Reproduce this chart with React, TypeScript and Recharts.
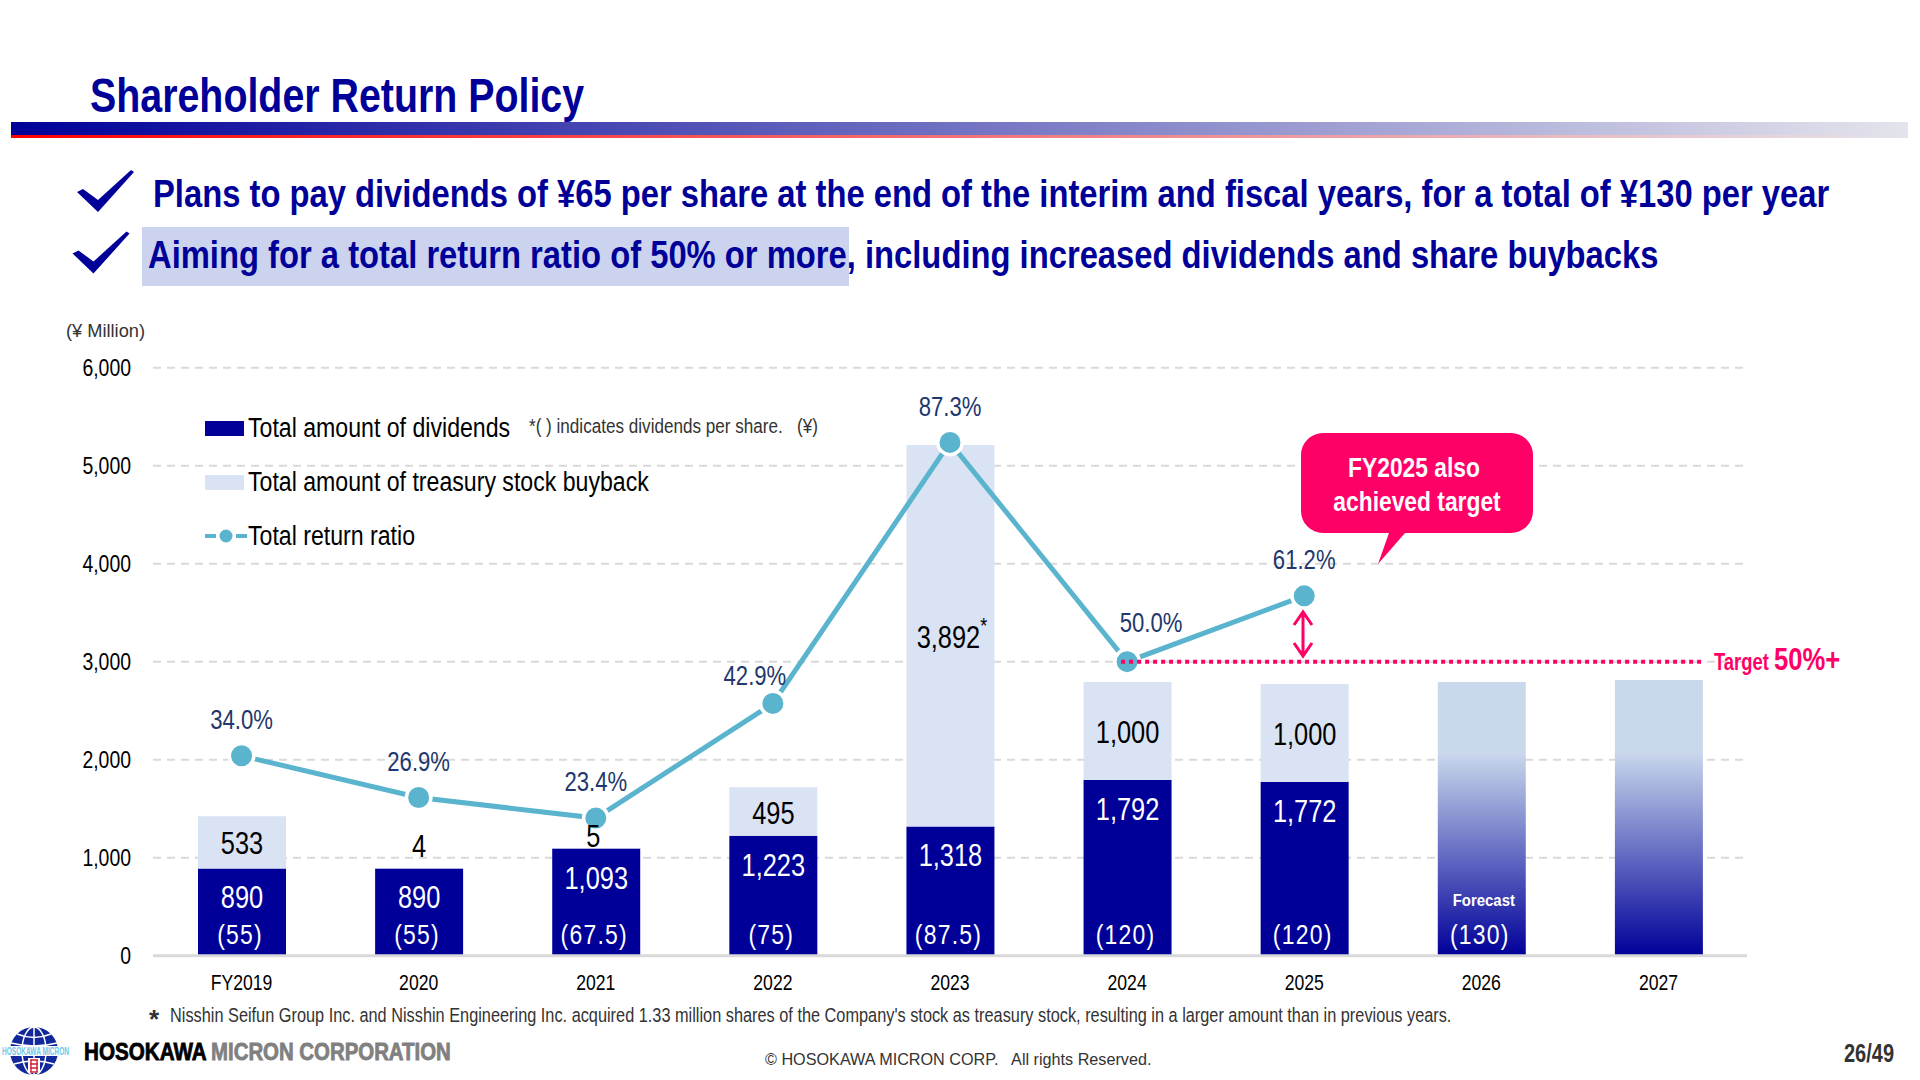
import {
  Bar,
  CartesianGrid,
  ComposedChart,
  LabelList,
  Legend,
  Line,
  ReferenceLine,
  XAxis,
  YAxis,
} from 'recharts'

const FONT = '"Liberation Sans", Arial, sans-serif'
const NAVY = '#000099'
const PALE = '#DAE3F3'
const TEAL = '#5AB4CE'
const PINK = '#FF0066'

const years = ['FY2019', '2020', '2021', '2022', '2023', '2024', '2025', '2026', '2027']
const dividends = [890, 890, 1093, 1223, 1318, 1792, 1772, null, null]
const buybacks = [533, 4, 5, 495, 3892, 1000, 1000, null, null]
const forecast = [null, null, null, null, null, null, null, 2793, 2813]
const returnRatio = [34.0, 26.9, 23.4, 42.9, 87.3, 50.0, 61.2, null, null]
const perShare = ['(55)', '(55)', '(67.5)', '(75)', '(87.5)', '(120)', '(120)', '(130)', null]
const notes = [null, null, null, null, null, null, null, 'Forecast', null]
const yTicks = [0, 1000, 2000, 3000, 4000, 5000, 6000]

const tableData = years.map((year, i) => ({
  year,
  dividends: dividends[i],
  buybacks: buybacks[i],
  forecast: forecast[i],
  returnRatio: returnRatio[i],
  perShare: perShare[i],
  note: notes[i],
}))

// hand placed offsets for the % labels, the default is straight above the dot
const pctNudge: Record<number, [number, number]> = {
  3: [-18, -28],
  5: [24, -39],
}

const fmt = (v: number) => v.toLocaleString('en-US')

// No narrow font is installed, so Liberation Sans gets squeezed horizontally
function Narrow({ x, y, sx = 0.82, size, weight, fill = '#000', anchor = 'start', central, children, ...rest }: any) {
  return (
    <text
      transform={`translate(${x} ${y}) scale(${sx} 1)`}
      fontSize={size}
      fontWeight={weight}
      fontFamily={FONT}
      fill={fill}
      textAnchor={anchor}
      dominantBaseline={central ? 'central' : undefined}
      {...rest}
    >
      {children}
    </text>
  )
}

function XTick({ x, payload }: any) {
  return <Narrow x={x} y={955.7 + 27} size={22} sx={0.8} anchor="middle" central>{payload.value}</Narrow>
}

function YTick({ x, y, payload }: any) {
  return <Narrow x={x} y={y} size={24} sx={0.81} anchor="end" central>{fmt(payload.value)}</Narrow>
}

function DividendLabel({ x, y, width, value }: any) {
  if (value == null) return null
  return <Narrow x={x + width / 2} y={y + 29} size={31} fill="#fff" anchor="middle" central>{fmt(value)}</Narrow>
}

function BuybackLabel({ x, y, width, height, value, index }: any) {
  if (value == null) return null
  // the tiny amounts don't fit inside the segment, they sit on top of the bar
  const small = value < 100
  const cy = small ? y - (index === 1 ? 22 : 12) : y + height / 2 + 1
  const hasStar = years[index] === '2023'
  return (
    <Narrow x={x + width / 2 - (index === 2 ? 3 : 0) + (hasStar ? 1.5 : 0)} y={cy} size={31} anchor="middle" central>
      {fmt(value)}
      {hasStar && <tspan fontSize={22} dy={-11}>*</tspan>}
    </Narrow>
  )
}

function PerShareLabel({ x, y, width, height, value }: any) {
  if (value == null) return null
  return (
    <Narrow x={x + width / 2 - 2} y={y + height - 22} size={28} letterSpacing={1.5} fill="#fff" anchor="middle" central>
      {value}
    </Narrow>
  )
}

function NoteLabel({ x, y, width, height, value }: any) {
  if (!value) return null
  return <Narrow x={x + width / 2 + 2} y={y + height - 56} size={17} sx={0.88} weight={700} fill="#fff" anchor="middle" central>{value}</Narrow>
}

function PctLabel({ x, y, value, index }: any) {
  if (value == null) return null
  const [dx, dy] = pctNudge[index] ?? [0, -36]
  return <Narrow x={x + dx} y={y + dy} size={27} fill="#22376B" anchor="middle" central>{value.toFixed(1)}%</Narrow>
}

const TARGET_DASH = { stroke: PINK, strokeWidth: 4, strokeDasharray: '4 4' }

function RatioDot({ cx, cy, value, index }: any) {
  if (value == null) return null
  return (
    <g>
      <circle cx={cx} cy={cy} r={12.25} fill={TEAL} stroke="#fff" strokeWidth={3.5} />
      {/* target line starts inside the 2024 dot, reference lines paint below the series */}
      {years[index] === '2024' && <line x1={cx - 6} y1={cy} x2={cx + 14} y2={cy} {...TARGET_DASH} />}
    </g>
  )
}

function TargetLine({ x1, y1, x2, y2 }: any) {
  return <line x1={x1 - 6} y1={y1} x2={x2 + 43} y2={y2} {...TARGET_DASH} />
}

function LegendBox({ payload }: any) {
  const items = (payload ?? []).filter((item: any) => item.type !== 'none' && item.dataKey !== 'forecast')
  return (
    <div style={{ fontFamily: FONT, fontSize: 27, color: '#000', lineHeight: '34px' }}>
      {items.map((item: any) => (
        <div key={item.value} style={{ display: 'flex', alignItems: 'center', height: 54, whiteSpace: 'nowrap' }}>
          {item.type === 'line' ? (
            <svg width={43} height={16}>
              <line x1={0} y1={8} x2={11} y2={8} stroke={TEAL} strokeWidth={4} />
              <line x1={31} y1={8} x2={42} y2={8} stroke={TEAL} strokeWidth={4} />
              <circle cx={21} cy={8} r={6.5} fill={TEAL} />
            </svg>
          ) : (
            <span style={{ display: 'inline-block', width: 39, height: 15, marginRight: 4, background: item.color }} />
          )}
          <span style={{ display: 'inline-block', transform: 'scaleX(0.856)', transformOrigin: 'left center' }}>{item.value}</span>
        </div>
      ))}
    </div>
  )
}

function Overlay() {
  const check = 'M77 192 L83 189 L98 200 L131 170 L134 172 L98 212 Z'
  return (
    <svg width={1920} height={1080} style={{ position: 'absolute', left: 0, top: 0, pointerEvents: 'none' }} fontFamily={FONT}>
      <defs>
        <linearGradient id="barBlue" x1="0" x2="1" y1="0" y2="0">
          <stop offset="0" stopColor="#000099" />
          <stop offset="1" stopColor="#E4E4EC" />
        </linearGradient>
        <linearGradient id="barRed" x1="0" x2="1" y1="0" y2="0">
          <stop offset="0" stopColor="#FF0000" />
          <stop offset="1" stopColor="#E4E4EC" />
        </linearGradient>
      </defs>

      <Narrow x={90} y={112} size={48} weight={700} fill={NAVY}>Shareholder Return Policy</Narrow>
      <rect x={11} y={122} width={1897} height={13} fill="url(#barBlue)" />
      <rect x={11} y={135} width={1897} height={3} fill="url(#barRed)" />

      <path d={check} fill={NAVY} />
      <path d={check} fill={NAVY} transform="translate(-4.5 61.5)" />
      <rect x={142} y={227} width={707} height={59} fill="#CBD3EE" />
      <Narrow x={153} y={207} size={38} sx={0.862} weight={700} fill={NAVY}>
        Plans to pay dividends of ¥65 per share at the end of the interim and fiscal years, for a total of ¥130 per year
      </Narrow>
      <Narrow x={148} y={268} size={38} sx={0.862} weight={700} fill={NAVY}>
        Aiming for a total return ratio of 50% or more, including increased dividends and share buybacks
      </Narrow>

      <Narrow x={66} y={337} size={19} sx={0.96} fill="#333">(¥ Million)</Narrow>
      <Narrow x={529} y={433} size={19.5} sx={0.878} fill="#333" xmlSpace="preserve">*( ) indicates dividends per share.   (¥)</Narrow>

      {/* callout */}
      <path d="M1323 433 H1511 a22 22 0 0 1 22 22 V511 a22 22 0 0 1 -22 22 H1405 L1378 564 L1389 533 H1323 a22 22 0 0 1 -22 -22 V455 a22 22 0 0 1 22 -22 Z" fill={PINK} />
      <Narrow x={1414} y={477} size={27} sx={0.845} weight={700} fill="#fff" anchor="middle">FY2025 also</Narrow>
      <Narrow x={1417} y={511} size={27} sx={0.845} weight={700} fill="#fff" anchor="middle">achieved target</Narrow>

      {/* gap to target */}
      <path d="M1303 613 V655 M1294 625 L1303 612 L1312 625 M1294 643 L1303 656 L1312 643" fill="none" stroke={PINK} strokeWidth={3} />
      <Narrow x={1714} y={670} size={23} sx={0.8} weight={700} fill={PINK}>Target</Narrow>
      <Narrow x={1774} y={670} size={32} sx={0.8} weight={700} fill={PINK}>50%+</Narrow>

      <text x={149} y={1028} fontSize={26} fontWeight={700} fill="#333">*</text>
      <Narrow x={170} y={1022} size={19.5} sx={0.837} fill="#333">
        Nisshin Seifun Group Inc. and Nisshin Engineering Inc. acquired 1.33 million shares of the Company's stock as treasury stock, resulting in a larger amount than in previous years.
      </Narrow>

      {/* logo */}
      <circle cx={34} cy={1051} r={24} fill="#12289A" />
      <g fill="none" stroke="#fff" strokeWidth={1.5}>
        <ellipse cx={34} cy={1051} rx={12} ry={24} />
        <path d="M34 1027 V1075 M17 1034 Q34 1041 51 1034 M11 1043 Q34 1049 57 1043 M14 1064 Q34 1058 54 1064" />
      </g>
      <rect x={3} y={1046} width={62} height={10} fill="#fff" />
      <Narrow x={2} y={1055} size={11} sx={0.595} weight={700} fill="#6FC6E6">HOSOKAWA MICRON</Narrow>
      <rect x={28} y={1058} width={12} height={15} fill="#fff" />
      <path d="M30 1060 H38 M30 1064 H38 M30 1068 H38 M30 1072 H38 M31 1060 V1072 M37 1060 V1072" fill="none" stroke="#D6203A" strokeWidth={1.4} />
      <Narrow x={84} y={1060} size={24} sx={0.86} weight={700} stroke="#000" strokeWidth={0.8}>HOSOKAWA</Narrow>
      <Narrow x={211} y={1060} size={24} sx={0.85} weight={700} fill="#808080" stroke="#808080" strokeWidth={0.8}>MICRON CORPORATION</Narrow>

      <text x={765} y={1065} fontSize={16.2} fill="#333" xmlSpace="preserve">© HOSOKAWA MICRON CORP.   All rights Reserved.</text>
      <Narrow x={1844} y={1062} size={25} sx={0.8} weight={700} fill="#333">26/49</Narrow>
    </svg>
  )
}

export default function App() {
  return (
    <div style={{ position: 'absolute', left: 0, top: 0, width: 1920, height: 1080, background: '#fff', overflow: 'hidden' }}>
      <ComposedChart
        width={1920}
        height={1080}
        data={tableData}
        margin={{ top: 367.7, right: 173, bottom: 64.3, left: 93 }}
        barSize={88}
      >
        <defs>
          <linearGradient id="forecastFill" x1="0" x2="0" y1="0" y2="1">
            <stop offset="0" stopColor="#CAD8EC" />
            <stop offset="0.26" stopColor="#CAD8EC" />
            <stop offset="1" stopColor={NAVY} />
          </linearGradient>
        </defs>
        <CartesianGrid vertical={false} stroke="#D9D9D9" strokeWidth={2} strokeDasharray="8 6" />
        <XAxis
          dataKey="year"
          height={60}
          interval={0}
          tickLine={false}
          axisLine={{ stroke: '#D9D9D9', strokeWidth: 3 }}
          tick={<XTick />}
        />
        <YAxis
          width={60}
          domain={[0, 6000]}
          ticks={yTicks}
          tickLine={false}
          axisLine={false}
          tick={<YTick />}
          tickMargin={16}
        />
        <YAxis yAxisId="pct" orientation="right" hide domain={[0, 100]} />
        <Legend
          layout="horizontal"
          verticalAlign="middle"
          align="center"
          content={<LegendBox />}
          wrapperStyle={{ left: 205, top: 401, width: 'auto' }}
        />
        <Bar dataKey="dividends" name="Total amount of dividends" stackId="a" fill={NAVY} isAnimationActive={false}>
          <LabelList dataKey="dividends" content={<DividendLabel />} />
          <LabelList dataKey="perShare" content={<PerShareLabel />} />
        </Bar>
        <Bar dataKey="buybacks" name="Total amount of treasury stock buyback" stackId="a" fill={PALE} isAnimationActive={false}>
          <LabelList dataKey="buybacks" content={<BuybackLabel />} />
        </Bar>
        <Bar dataKey="forecast" stackId="a" fill="url(#forecastFill)" legendType="none" isAnimationActive={false}>
          <LabelList dataKey="perShare" content={<PerShareLabel />} />
          <LabelList dataKey="note" content={<NoteLabel />} />
        </Bar>
        <Line
          dataKey="returnRatio"
          name="Total return ratio"
          yAxisId="pct"
          stroke={TEAL}
          strokeWidth={5}
          dot={<RatioDot />}
          activeDot={false}
          isAnimationActive={false}
        >
          <LabelList dataKey="returnRatio" content={<PctLabel />} />
        </Line>
        <ReferenceLine
          segment={[{ x: '2024', y: 3000 }, { x: '2027', y: 3000 }]}
          shape={<TargetLine />}
        />
      </ComposedChart>
      <Overlay />
    </div>
  )
}
